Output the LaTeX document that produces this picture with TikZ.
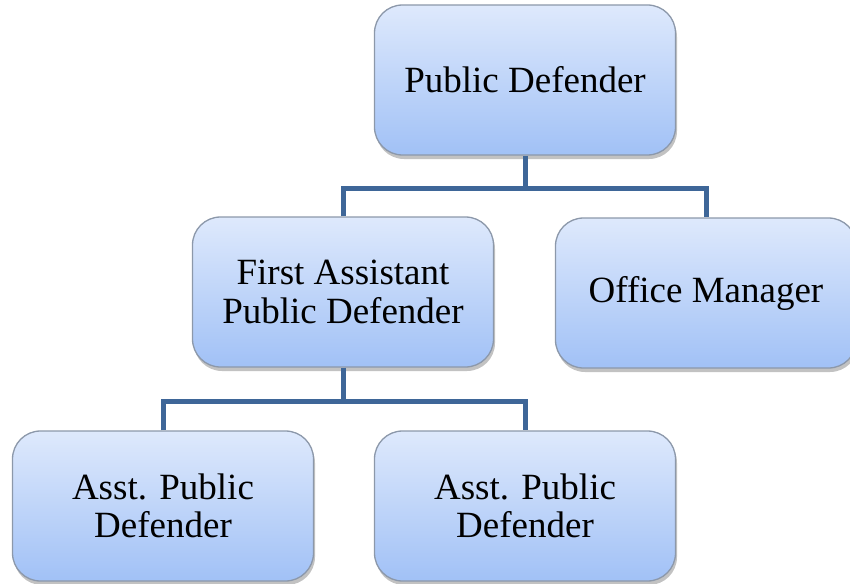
\documentclass[tikz,border=0pt]{standalone}
\usepackage{fontspec}
\setmainfont{Liberation Serif}
\usetikzlibrary{shadows,positioning}
\definecolor{boxtop}{RGB}{222,233,252}
\definecolor{boxbot}{RGB}{161,193,246}
\definecolor{boxline}{RGB}{140,152,170}
\definecolor{connc}{RGB}{62,102,152}
\tikzset{
  orgbox/.style={draw=boxline, line width=1.3pt, rounded corners=28pt,
    top color=boxtop, bottom color=boxbot,
    minimum width=301pt, minimum height=150pt, inner sep=0pt,
    align=center, font=\fontsize{37}{38.5}\selectfont,
    drop shadow={shadow xshift=1.5pt, shadow yshift=-4pt, opacity=0.4, fill=black!60}},
  conn/.style={draw=connc, line width=5pt}
}
\begin{document}
\begin{tikzpicture}[x=1pt,y=-1pt]
\useasboundingbox (0,0) rectangle (850,583);
\clip (0,0) rectangle (850,583);
\coordinate (j1) at (525,188);
\coordinate (j2) at (343,401);
\node[orgbox] (pd) at (525,80) {Public Defender};
\node[orgbox] (fa) at (343,292) {First Assistant\\Public Defender};
\node[orgbox] (om) at (706,293) {Office Manager};
\node[orgbox] (a1) at (163,506) {Asst. Public\\Defender};
\node[orgbox] (a2) at (525,506) {Asst. Public\\Defender};
\draw[conn] (pd.south) -- (j1);
\draw[conn] (fa.north) |- (j1) -| (om.north);
\draw[conn] (fa.south) -- (j2);
\draw[conn] (a1.north) |- (j2) -| (a2.north);
\end{tikzpicture}
\end{document}
